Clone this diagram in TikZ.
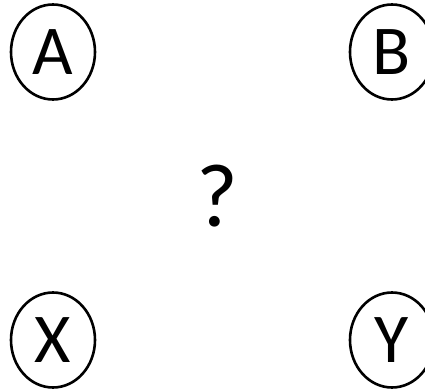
\documentclass[tikz,border=0pt]{standalone}
\usepackage{fontspec}
\setmainfont{Carlito}
\usetikzlibrary{shapes.geometric}
\begin{document}
\begin{tikzpicture}[x=1pt,y=1pt,
  circ/.style={ellipse,draw=black,line width=2.6pt,minimum width=84pt,minimum height=95pt,inner sep=0pt,font=\fontsize{70}{70}\selectfont},
  qmark/.style={font=\fontsize{90}{90}\selectfont,inner sep=0pt}]
\useasboundingbox (0,0) rectangle (425,391);
\node[circ] (a) at (53,339) {A};
\node[circ] (b) at (392,339) {B};
\node[circ] (x) at (53,51) {X};
\node[circ] (y) at (392,51) {Y};
\node[qmark] (q) at (217,195) {?};
\end{tikzpicture}
\end{document}
